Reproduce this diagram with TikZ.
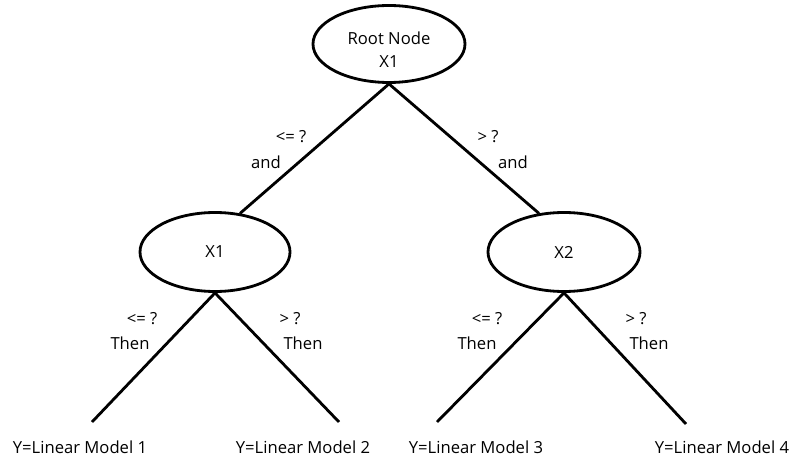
\documentclass[tikz,border=0pt]{standalone}
\usepackage{fontspec}
\setmainfont{Open Sans}
\usetikzlibrary{shapes.geometric}

\tikzset{
  split/.style={draw,ellipse,line width=2.4pt,inner sep=0pt,font=\fontsize{14.2}{19.5}\selectfont,align=center},
  lbl/.style={font=\fontsize{14.2}{16}\selectfont,inner sep=0pt},
  branch/.style={line width=2.4pt}
}

\begin{document}
\begin{tikzpicture}[x=0.03cm,y=-0.03cm]
        \useasboundingbox (0,0) rectangle (793,460);
        % split nodes
        \node[split,minimum width=4.56cm,minimum height=2.31cm,text height=40pt] (root) at (389,44) {Root Node\\X1};
        \node[split,minimum width=4.5cm,minimum height=2.37cm] (xa) at (215,252) {X1};
        \node[split,minimum width=4.56cm,minimum height=2.37cm] (xb) at (564,252) {X2};
        % leaf ends
        \coordinate (e1) at (92,422);
        \coordinate (e2) at (339,422);
        \coordinate (e3) at (437,422);
        \coordinate (e4) at (686,424);
        \draw[branch] (root.south) -- (xa.57);
        \draw[branch] (root.south) -- (xb.123);
        \draw[branch] (xa.south) -- (e1) (xa.south) -- (e2);
        \draw[branch] (xb.south) -- (e3) (xb.south) -- (e4);
        % branch labels
        \node[lbl] (ra1) at (291,137) {<= ?};
        \node[lbl] (ra2) at (266,162) {and};
        \node[lbl] (rb1) at (488,137) {> ?};
        \node[lbl] (rb2) at (513,162) {and};
        \node[lbl] (aa1) at (142,319) {<= ?};
        \node[lbl] (aa2) at (130,343) {Then};
        \node[lbl] (ab1) at (290,319) {> ?};
        \node[lbl] (ab2) at (303,343) {Then};
        \node[lbl] (ba1) at (487,319) {<= ?};
        \node[lbl] (ba2) at (477,343) {Then};
        \node[lbl] (bb1) at (636,319) {> ?};
        \node[lbl] (bb2) at (649,343) {Then};
        % leaves
        \node[lbl] (m1) at (80,447) {Y=Linear Model 1};
        \node[lbl] (m2) at (303,447) {Y=Linear Model 2};
        \node[lbl] (m3) at (476,447) {Y=Linear Model 3};
        \node[lbl] (m4) at (722,447) {Y=Linear Model 4};
    \end{tikzpicture}
\end{document}
